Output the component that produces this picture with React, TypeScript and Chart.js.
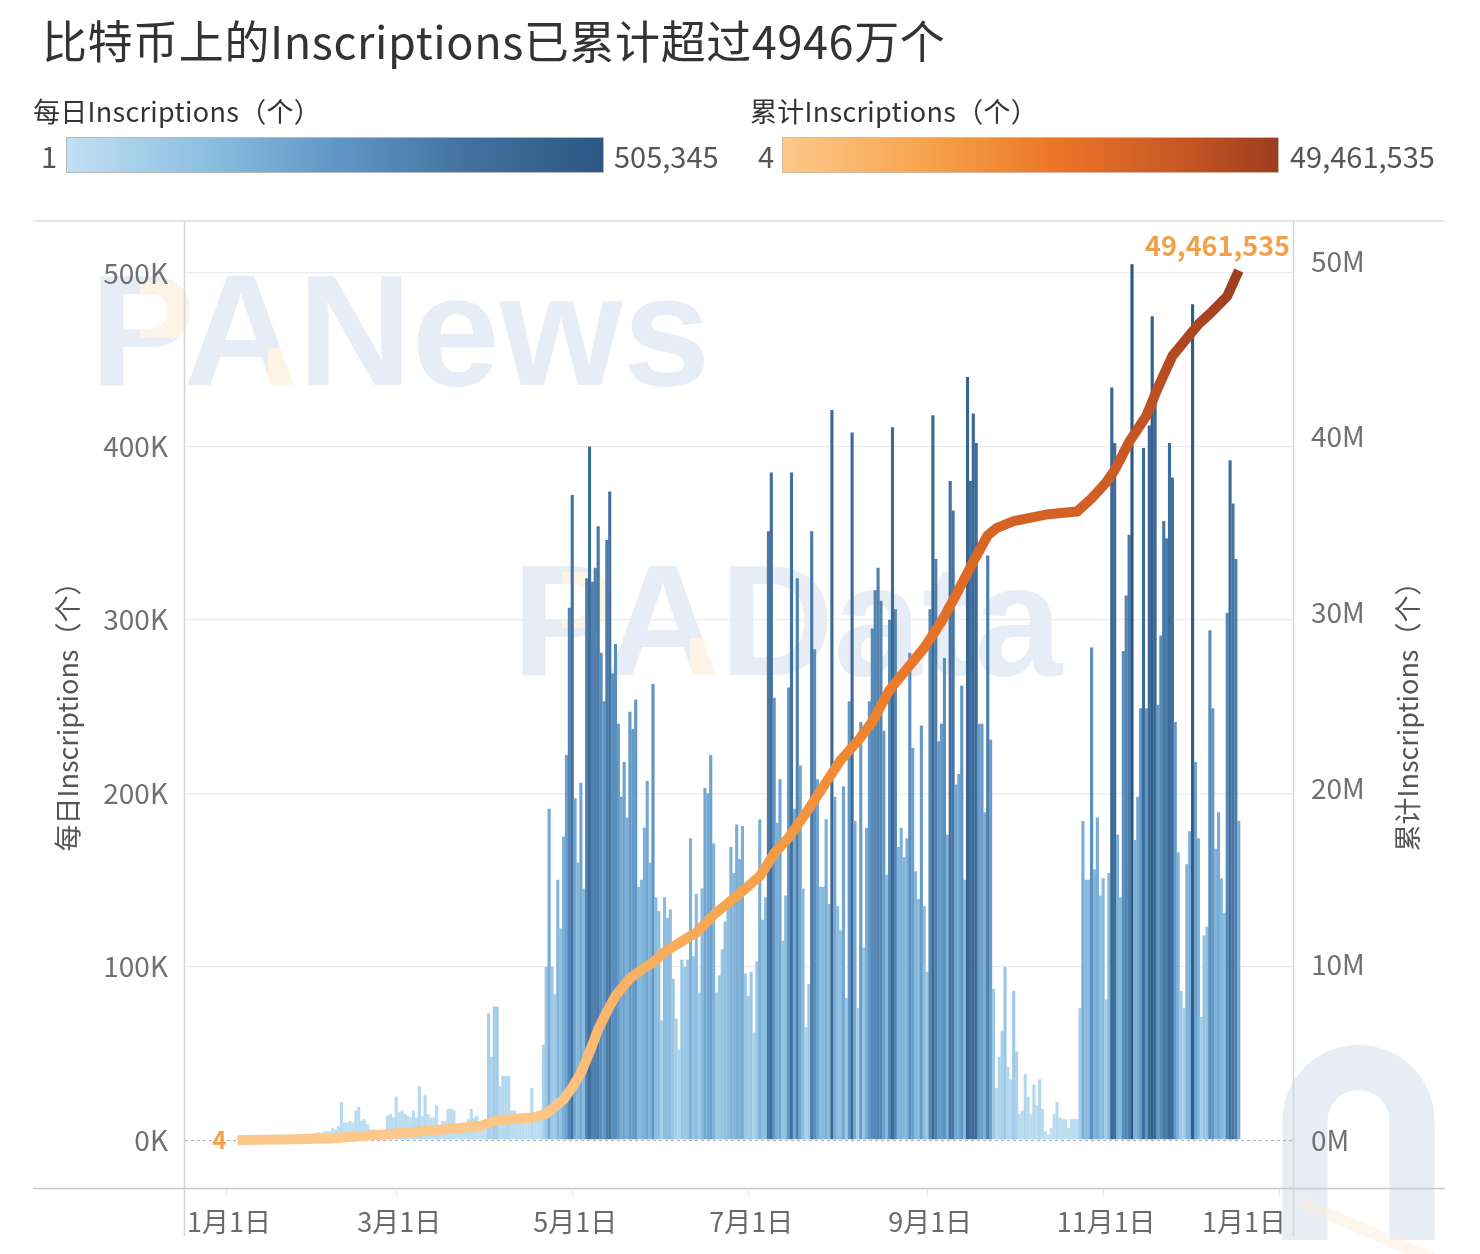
import React, { useEffect, useRef } from "react";
import { Chart, registerables } from "chart.js";

Chart.register(...registerables);

const FONT = '"Noto Sans CJK SC", "Noto Sans", sans-serif';

const TITLE = "比特币上的Inscriptions已累计超过4946万个";
const DAILY_TITLE = "每日Inscriptions（个）";
const CUM_TITLE = "累计Inscriptions（个）";
const DAILY_MIN = 1;
const DAILY_MAX = 505345;
const CUM_MIN = 4;
const CUM_MAX = 49461535;

// x axis = day number of 2023 (0 = 1月1日)
const MONTH_TICK_DAYS = [0, 59, 120, 181, 243, 304, 365];
const MONTH_TICK_LABELS = ["1月1日", "3月1日", "5月1日", "7月1日", "9月1日", "11月1日", "1月1日"];
const LEFT_TICKS = [0, 100000, 200000, 300000, 400000, 500000];
const RIGHT_TICKS = [0, 10000000, 20000000, 30000000, 40000000, 50000000];

// daily inscriptions (thousands); each array starts at the matching FIRST_DAYS entry
const FIRST_DAYS = [4, 31, 59, 90, 120, 151, 181, 212, 243, 273, 304, 334];
const dailyJan = [0.004, 0.3, 0.5, 0.8, 1.0, 1.2, 1.5, 1.4, 1.8, 2.0, 2.2, 1.9, 2.3, 2.6, 2.1, 2.4, 2.8, 2.5, 3.0, 2.7, 3.1, 3.4, 2.9, 3.2, 3.6, 3.3, 3.8];
const dailyFeb = [4, 4.5, 4, 5, 5, 5, 7, 6, 8, 22, 10, 10, 11, 10, 17, 19, 11, 12, 9, 6, 6, 5, 4, 3, 4, 14, 15, 13];
const dailyMar = [25, 16, 17, 15, 14, 13, 17, 13, 31, 14, 26, 15, 13, 13, 20, 8, 11, 11, 18, 18, 17, 7, 6, 7, 7, 12, 18, 13, 14, 7, 6];
const dailyApr = [8, 73, 48, 77, 77, 31, 37, 37, 37, 17, 17, 15, 13, 13, 12, 13, 30, 12, 12, 14, 55, 100, 191, 100, 84, 150, 122, 175, 222, 307];
const dailyMay = [372, 197, 160, 206, 145, 324, 400, 322, 330, 354, 281, 253, 346, 374, 269, 286, 240, 198, 218, 186, 247, 237, 254, 146, 150, 180, 207, 160, 263, 140, 132];
const dailyJun = [69, 140, 128, 133, 93, 70, 52, 104, 100, 104, 174, 106, 142, 85, 145, 203, 200, 222, 171, 85, 95, 110, 126, 140, 169, 154, 182, 162, 181, 96];
const dailyJul = [83, 97, 62, 103, 185, 127, 140, 351, 385, 255, 183, 208, 115, 141, 261, 385, 191, 324, 216, 145, 65, 90, 351, 283, 208, 146, 146, 185, 136, 421, 198];
const dailyAug = [135, 121, 204, 82, 253, 408, 184, 76, 241, 111, 180, 253, 295, 317, 330, 311, 236, 153, 300, 411, 306, 169, 180, 163, 174, 281, 226, 155, 139, 239, 135];
const dailySep = [97, 306, 418, 335, 230, 240, 278, 176, 380, 363, 205, 211, 262, 150, 440, 380, 419, 402, 240, 240, 189, 337, 231, 87, 30, 48, 63, 100, 42, 35];
const dailyOct = [86, 51, 15, 17, 38, 25, 15, 32, 20, 35, 18, 5, 3, 7, 15, 22, 13, 12, 12, 7, 12, 12, 12, 76, 184, 150, 150, 284, 156, 186, 141];
const dailyNov = [151, 81, 154, 434, 402, 176, 140, 282, 314, 349, 505, 173, 198, 249, 399, 249, 412, 475, 425, 251, 291, 357, 347, 402, 382, 241, 166, 86, 76, 159];
const dailyDec = [178, 482, 218, 174, 71, 118, 123, 294, 249, 168, 189, 151, 131, 304, 392, 367, 335, 184];
const DAILY_MONTHS = [dailyJan, dailyFeb, dailyMar, dailyApr, dailyMay, dailyJun, dailyJul, dailyAug, dailySep, dailyOct, dailyNov, dailyDec];

// cumulative inscriptions (millions) read at selected days
const cumDays = [4, 20, 36, 45, 56, 65, 79, 88, 91, 94, 102, 107, 111, 114, 117, 120, 123, 126, 129, 132, 135, 140, 145, 148, 152, 157, 163, 169, 175, 180, 185, 190, 195, 201, 207, 213, 219, 224, 230, 236, 242, 248, 253, 259, 264, 267, 273, 285, 295, 300, 305, 308, 313, 319, 323, 328, 333, 337, 341, 347, 351];
const cumMillions = [0.000004, 0.03, 0.08, 0.2, 0.33, 0.45, 0.65, 0.8, 0.95, 1.12, 1.22, 1.3, 1.5, 1.9, 2.3, 3.0, 3.8, 5.0, 6.3, 7.3, 8.2, 9.2, 9.8, 10.1, 10.7, 11.2, 11.8, 12.8, 13.6, 14.3, 15.0, 16.3, 17.2, 18.6, 20.1, 21.6, 22.7, 23.8, 25.6, 26.8, 28.0, 29.5, 31.0, 32.9, 34.4, 34.8, 35.2, 35.6, 35.75, 36.5, 37.4, 38.1, 39.7, 41.2, 42.8, 44.6, 45.6, 46.4, 47.0, 48.0, 49.461535];

const BLUE_STOPS: [number, string][] = [[0, "#c1e0f3"], [0.25, "#8fc0e1"], [0.5, "#6197c6"], [0.75, "#43719f"], [1, "#2a5783"]];
const ORANGE_STOPS: [number, string][] = [[0, "#fdc98b"], [0.3, "#f6a24a"], [0.55, "#eb7627"], [0.8, "#c95724"], [1, "#9c3d20"]];

function hexRgb(h: string) {
  const n = parseInt(h.slice(1), 16);
  return [(n >> 16) & 255, (n >> 8) & 255, n & 255];
}
function colorAt(stops: [number, string][], t: number) {
  t = Math.max(0, Math.min(1, t));
  for (let i = 1; i < stops.length; i++) {
    if (t <= stops[i][0]) {
      const [t0, c0] = stops[i - 1];
      const [t1, c1] = stops[i];
      const f = (t - t0) / (t1 - t0);
      const a = hexRgb(c0), b = hexRgb(c1);
      return `rgb(${Math.round(a[0] + (b[0] - a[0]) * f)},${Math.round(a[1] + (b[1] - a[1]) * f)},${Math.round(a[2] + (b[2] - a[2]) * f)})`;
    }
  }
  return stops[stops.length - 1][1];
}
const cssGradient = (stops: [number, string][]) =>
  `linear-gradient(to right, ${stops.map(([t, c]) => `${c} ${t * 100}%`).join(", ")})`;

const fmt = (v: number) => v.toLocaleString("en-US");

function drawWatermark(ctx: CanvasRenderingContext2D) {
  const off = document.createElement("canvas");
  off.width = 1480;
  off.height = 1254;
  const o = off.getContext("2d");
  if (!o) return;
  o.font = 'bold 158px "Liberation Sans", sans-serif';
  o.fillStyle = "rgb(231,237,246)";
  o.textBaseline = "alphabetic";
  o.fillText("PANews", 90, 385);
  o.fillText("PAData", 512, 675);
  o.globalCompositeOperation = "source-atop";
  o.fillStyle = "rgb(253,243,231)";
  o.fillRect(140, 282, 62, 56);
  o.fillRect(268, 348, 34, 40);
  o.fillRect(562, 572, 62, 56);
  o.fillRect(690, 638, 34, 40);
  ctx.drawImage(off, 0, 0);
}

const framePlugin = {
  id: "frame",
  beforeDraw(chart: any) {
    const { ctx, chartArea: a } = chart;
    ctx.save();
    drawWatermark(ctx);
    // faint logo bottom-right
    ctx.strokeStyle = "rgba(220,229,241,0.7)";
    ctx.lineWidth = 45;
    ctx.beginPath();
    ctx.moveTo(1305, 1240);
    ctx.lineTo(1305, 1121);
    ctx.arc(1358.5, 1121, 53.5, Math.PI, 0, false);
    ctx.lineTo(1412, 1240);
    ctx.stroke();
    ctx.strokeStyle = "rgba(253,236,214,0.45)";
    ctx.lineWidth = 12;
    ctx.beginPath();
    ctx.moveTo(1300, 1202);
    ctx.lineTo(1440, 1262);
    ctx.stroke();
    // frame lines
    ctx.lineWidth = 1.5;
    ctx.strokeStyle = "#dedede";
    ctx.beginPath();
    ctx.moveTo(33, a.top - 1);
    ctx.lineTo(1445, a.top - 1);
    ctx.stroke();
    ctx.strokeStyle = "#c9c9c9";
    ctx.beginPath();
    ctx.moveTo(33, a.bottom + 0.5);
    ctx.lineTo(1445, a.bottom + 0.5);
    ctx.stroke();
    ctx.strokeStyle = "#d4d4d4";
    ctx.beginPath();
    ctx.moveTo(a.left - 0.5, a.top - 1);
    ctx.lineTo(a.left - 0.5, 1236);
    ctx.moveTo(a.right + 0.5, a.top - 1);
    ctx.lineTo(a.right + 0.5, 1236);
    ctx.stroke();
    // faint x tick marks
    const xs = chart.scales.x;
    ctx.strokeStyle = "#e6e6e6";
    ctx.lineWidth = 1;
    ctx.beginPath();
    MONTH_TICK_DAYS.forEach((d) => {
      const px = Math.round(xs.getPixelForValue(d)) + 0.5;
      ctx.moveTo(px, a.bottom + 1);
      ctx.lineTo(px, a.bottom + 9);
    });
    ctx.stroke();
    ctx.restore();
  },
  beforeDatasetsDraw(chart: any) {
    const { ctx, chartArea: a } = chart;
    ctx.save();
    const y0 = Math.round(chart.scales.y.getPixelForValue(0)) + 0.5;
    ctx.strokeStyle = "#b5b5b5";
    ctx.lineWidth = 1.2;
    ctx.setLineDash([3, 3]);
    ctx.beginPath();
    ctx.moveTo(a.left, y0);
    ctx.lineTo(a.right, y0);
    ctx.stroke();
    ctx.restore();
  },
  afterDatasetsDraw(chart: any) {
    const { ctx, chartArea: a } = chart;
    const xs = chart.scales.x;
    const y1 = chart.scales.y1;
    ctx.save();
    // value labels
    ctx.font = `bold 24px ${FONT}`;
    ctx.fillStyle = "#f2a04a";
    ctx.textBaseline = "middle";
    ctx.textAlign = "right";
    const firstX = xs.getPixelForValue(cumDays[0]);
    ctx.fillText(fmt(CUM_MIN), firstX - 11, y1.getPixelForValue(0));
    ctx.font = `bold 27px ${FONT}`;
    ctx.fillText(fmt(CUM_MAX), a.right - 3, y1.getPixelForValue(CUM_MAX) - 25);

    // x labels
    ctx.font = `27px ${FONT}`;
    ctx.fillStyle = "#6b6b6b";
    MONTH_TICK_DAYS.forEach((d, i) => {
      const last = i === MONTH_TICK_DAYS.length - 1;
      ctx.textAlign = last ? "right" : "center";
      const px = xs.getPixelForValue(d);
      ctx.fillText(MONTH_TICK_LABELS[i], last ? a.right - 7 : px + 3, a.bottom + 34);
    });

    // axis titles
    ctx.font = `27px ${FONT}`;
    ctx.fillStyle = "#555";
    ctx.textAlign = "center";
    const cy = (a.top + a.bottom) / 2 + 5;
    ctx.save();
    ctx.translate(68, cy);
    ctx.rotate(-Math.PI / 2);
    ctx.fillText(DAILY_TITLE, 0, 0);
    ctx.restore();
    ctx.save();
    ctx.translate(1408, cy);
    ctx.rotate(-Math.PI / 2);
    ctx.fillText(CUM_TITLE, 0, 0);
    ctx.restore();
    ctx.restore();
  },
};

function Txt(props: { x: number; y: number; size: number; color: string; right?: boolean; spacing?: number; children: any }) {
  const { x, y, size, color, right, spacing, children } = props;
  const pos: any = right ? { right: 1480 - x } : { left: x };
  return (
    <div
      style={{
        position: "absolute",
        top: y - size * 0.05,
        ...pos,
        transform: "translateY(-50%)",
        fontSize: size,
        lineHeight: 1,
        color,
        whiteSpace: "nowrap",
        letterSpacing: spacing || 0,
      }}
    >
      {children}
    </div>
  );
}

export default function App() {
  const ref = useRef<HTMLCanvasElement>(null);

  useEffect(() => {
    const canvas = ref.current;
    if (!canvas) return;
    const barPoints: { x: number; y: number }[] = [];
    DAILY_MONTHS.forEach((arr, m) => arr.forEach((v, i) => barPoints.push({ x: FIRST_DAYS[m] + i, y: v * 1000 })));
    const barColors = barPoints.map((p) => colorAt(BLUE_STOPS, (p.y - DAILY_MIN) / (DAILY_MAX - DAILY_MIN)));
    const cumPoints = cumDays.map((d, i) => ({ x: d, y: cumMillions[i] * 1e6 }));

    const tickFont = { family: FONT, size: 28 };
    const chart = new Chart(canvas, {
      type: "bar",
      data: {
        datasets: [
          {
            type: "line",
            data: cumPoints,
            yAxisID: "y1",
            xAxisID: "x",
            borderWidth: 10,
            pointRadius: 0,
            tension: 0,
            fill: false,
            borderJoinStyle: "round",
            order: 0,
            borderColor: (ctx: any) => {
              const chart = ctx.chart;
              if (!chart.chartArea || !chart.scales.y1) return ORANGE_STOPS[0][1];
              const s = chart.scales.y1;
              const g = chart.ctx.createLinearGradient(0, s.getPixelForValue(CUM_MIN), 0, s.getPixelForValue(CUM_MAX));
              ORANGE_STOPS.forEach(([t, c]) => g.addColorStop(t, c));
              return g;
            },
          } as any,
          {
            type: "bar",
            data: barPoints,
            yAxisID: "y",
            xAxisID: "x",
            backgroundColor: barColors,
            borderWidth: 0,
            barPercentage: 1.08,
            categoryPercentage: 1,
            order: 1,
          } as any,
        ],
      },
      options: {
        responsive: false,
        animation: false,
        layout: { padding: { top: 222, left: 0, right: 0, bottom: 0 } },
        plugins: { legend: { display: false }, tooltip: { enabled: false } },
        scales: {
          x: {
            type: "linear",
            min: -14.2,
            max: 369.8,
            offset: false,
            grid: { display: false },
            border: { display: false },
            ticks: { display: false },
            afterFit: (s: any) => {
              s.height = 66;
            },
          },
          y: {
            type: "linear",
            position: "left",
            min: -27700,
            max: 529400,
            afterBuildTicks: (s: any) => {
              s.ticks = LEFT_TICKS.map((v) => ({ value: v }));
            },
            afterFit: (s: any) => {
              s.width = 185;
            },
            grid: {
              color: (c: any) => (c.tick && c.tick.value === 0 ? "rgba(0,0,0,0)" : "#ececec"),
              drawTicks: false,
              lineWidth: 1.2,
            },
            border: { display: false },
            ticks: {
              padding: 17,
              color: "#707070",
              font: tickFont,
              callback: (v: any) => `${Number(v) / 1000}K`,
            },
          },
          y1: {
            type: "linear",
            position: "right",
            min: -2730000,
            max: 52220000,
            afterBuildTicks: (s: any) => {
              s.ticks = RIGHT_TICKS.map((v) => ({ value: v }));
            },
            afterFit: (s: any) => {
              s.width = 187;
            },
            grid: { display: false, drawTicks: false },
            border: { display: false },
            ticks: {
              padding: 18,
              color: "#707070",
              font: tickFont,
              callback: (v: any) => `${Number(v) / 1000000}M`,
            },
          },
        },
      } as any,
      plugins: [framePlugin],
    });
    return () => chart.destroy();
  }, []);

  return (
    <div
      style={{
        position: "absolute",
        left: 0,
        top: 0,
        width: 1480,
        height: 1254,
        background: "#fff",
        overflow: "hidden",
        fontFamily: FONT,
      }}
    >
      <canvas ref={ref} width={1480} height={1254} style={{ position: "absolute", left: 0, top: 0, width: 1480, height: 1254 }} />
      <Txt x={42} y={41} size={45} color="#333" spacing={0.6}>{TITLE}</Txt>
      <Txt x={33} y={111} size={27} color="#333" spacing={0.3}>{DAILY_TITLE}</Txt>
      <Txt x={750} y={111} size={27} color="#333" spacing={0.3}>{CUM_TITLE}</Txt>
      <Txt x={57} y={156} size={29} color="#555" right>{fmt(DAILY_MIN)}</Txt>
      <div style={{ position: "absolute", left: 66, top: 137, width: 538, height: 36, boxSizing: "border-box", border: "1.5px solid #b9b9b9", background: cssGradient(BLUE_STOPS) }} />
      <Txt x={614} y={156} size={29} color="#555">{fmt(DAILY_MAX)}</Txt>
      <Txt x={774} y={156} size={29} color="#555" right>{fmt(CUM_MIN)}</Txt>
      <div style={{ position: "absolute", left: 782, top: 137, width: 497, height: 36, boxSizing: "border-box", border: "1.5px solid #d2b9a0", background: cssGradient(ORANGE_STOPS) }} />
      <Txt x={1290} y={156} size={29} color="#555">{fmt(CUM_MAX)}</Txt>
    </div>
  );
}
